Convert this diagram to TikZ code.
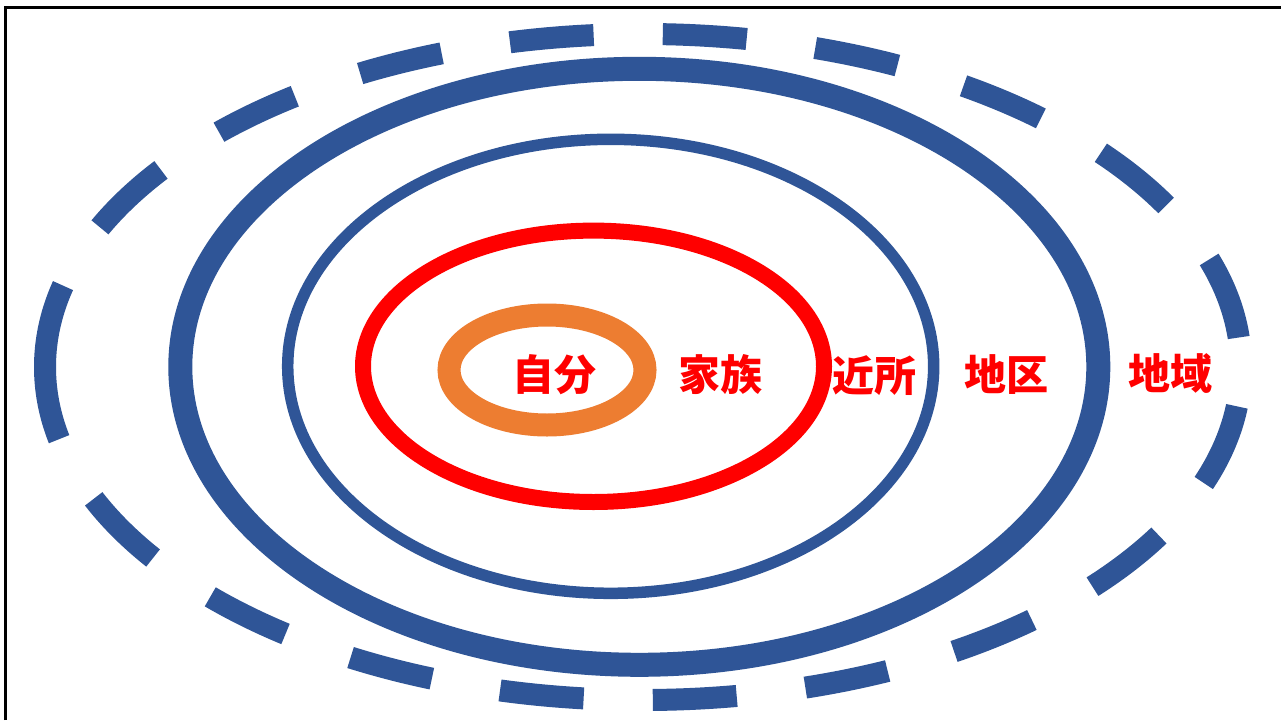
\documentclass[tikz,border=0pt]{standalone}
\usepackage{fontspec}
\newfontfamily\jp{Noto Sans CJK JP}
\definecolor{ringblue}{HTML}{2F5597}
\definecolor{ringorange}{HTML}{ED7D31}
\definecolor{ringred}{HTML}{FF0000}
\tikzset{
  ring/.style={draw=ringblue},
  dashring/.style={draw=ringblue, line width=22pt, dash pattern=on 84pt off 69.2pt},
  lbl/.style={text=ringred, font=\jp\bfseries\fontsize{42}{42}\selectfont, inner sep=0pt, anchor=center},
  frameline/.style={draw=black, line width=2.5pt}
}
\begin{document}
\begin{tikzpicture}[x=1pt,y=-1pt]
\useasboundingbox (0,0) rectangle (1281,720);
\fill[white] (0,0) rectangle (1281,720);
\draw[frameline] (5.5,720) -- (5.5,7.5) -- (1281,7.5);
% outer dashed ring
\draw[dashring] (45,367) arc[start angle=180, end angle=540, x radius=598, y radius=333];
% thick blue ring
\draw[ring, line width=24pt] (639.3,366.8) ellipse [x radius=459, y radius=298];
% thin blue ring
\draw[ring, line width=11.5pt] (610.7,366.3) ellipse [x radius=323, y radius=227];
% red ring
\draw[draw=ringred, line width=16pt] (593.5,366.3) ellipse [x radius=230.5, y radius=135.7];
% orange ring
\draw[draw=ringorange, line width=23pt] (547,370) ellipse [x radius=98, y radius=55];
% labels
\node[lbl] (jibun) at (554,375) {自分};
\node[lbl] (kazoku) at (720,375) {家族};
\node[lbl] (kinjo) at (874,376) {近所};
\node[lbl] (chiku) at (1006.5,375) {地区};
\node[lbl] (chiiki) at (1170.5,374) {地域};
\end{tikzpicture}
\end{document}
